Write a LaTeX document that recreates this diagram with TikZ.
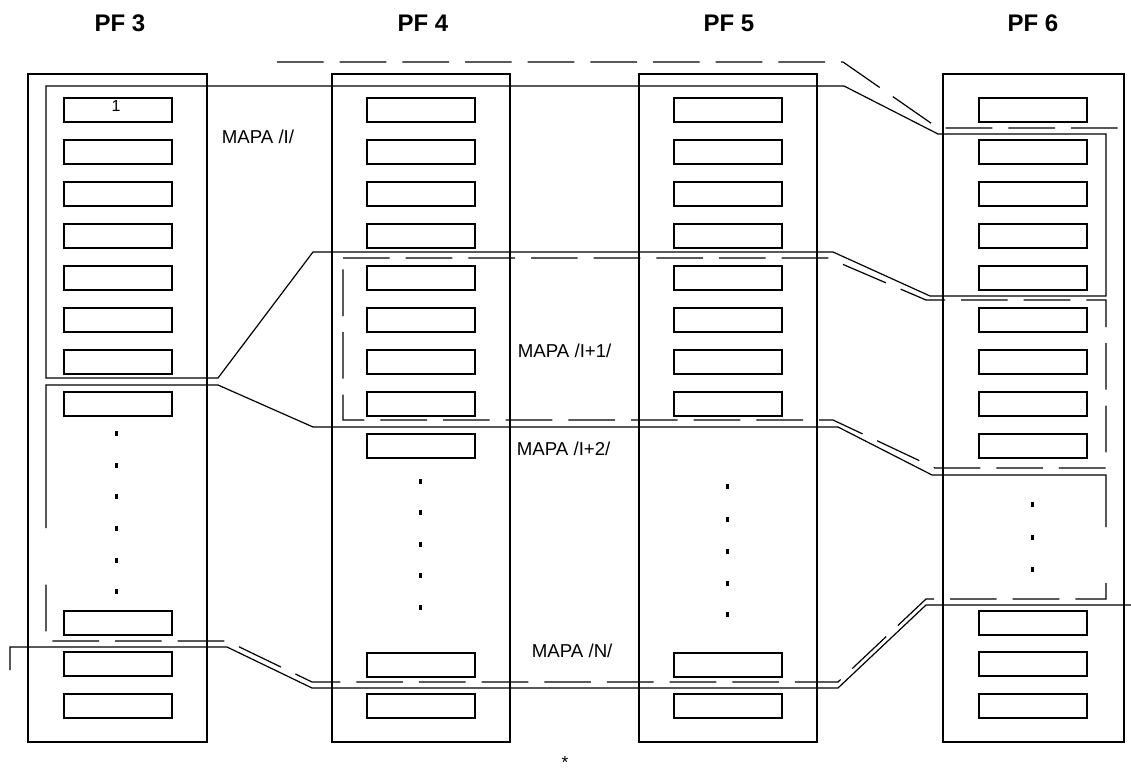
\documentclass[tikz,border=0pt]{standalone}
\usepackage{fontspec}
\setmainfont{Liberation Sans}
\begin{document}
\begin{tikzpicture}[x=0.75pt, y=-0.75pt, line width=1.3pt,
    mapline/.style={line width=0.9pt},
    mapdash/.style={line width=0.9pt, dash pattern=on 35pt off 12pt},
    pftitle/.style={font=\bfseries\fontsize{18}{21}\selectfont, inner sep=0pt},
    maplabel/.style={font=\fontsize{14}{16}\selectfont, inner sep=0pt, anchor=west}]
\useasboundingbox (0,0) rectangle (1131,780);
% titles
\node[pftitle] (pf3) at (120,23) {PF 3};
\node[pftitle] (pf4) at (423,23) {PF 4};
\node[pftitle] (pf5) at (729,23) {PF 5};
\node[pftitle] (pf6) at (1033,23) {PF 6};
% frames
\draw (28,74) rectangle (207,742);
\draw (332,74) rectangle (510,742);
\draw (639,74) rectangle (817,742);
\draw (943,74) rectangle (1124,742);
% slots PF 3
\foreach \y in {98,140,...,392} \draw (64,\y) rectangle (172,\y+24);
\foreach \y in {611,652,694} \draw (64,\y) rectangle (172,\y+24);
\foreach \y in {433,465,496,528,560,591} \fill (114.5,\y-2.5) rectangle (117.5,\y+2.5);
% slots PF 4
\foreach \y in {98,140,...,434} \draw (367,\y) rectangle (475,\y+24);
\foreach \y in {653,694} \draw (367,\y) rectangle (475,\y+24);
\foreach \y in {481,512,544,575,607} \fill (418.5,\y-2.5) rectangle (421.5,\y+2.5);
% slots PF 5
\foreach \y in {98,140,...,392} \draw (674,\y) rectangle (782,\y+24);
\foreach \y in {653,694} \draw (674,\y) rectangle (782,\y+24);
\foreach \y in {486,519,551,583,614} \fill (725.5,\y-2.5) rectangle (728.5,\y+2.5);
% slots PF 6
\foreach \y in {98,140,...,434} \draw (979,\y) rectangle (1087,\y+24);
\foreach \y in {611,652,694} \draw (979,\y) rectangle (1087,\y+24);
\foreach \y in {504,537,569} \fill (1030.5,\y-2.5) rectangle (1033.5,\y+2.5);
\node[font=\fontsize{12}{14}\selectfont, inner sep=0pt] (one) at (116,106) {1};
% maps
\draw[mapdash] (277,62) -- (843,62) -- (938,128) -- (1118,128);
\draw[mapline] (46,86) -- (844,86) -- (938,134) -- (1106,134) -- (1106,296)
  -- (930,296) -- (833,252) -- (313,252) -- (218,378) -- (46,378) -- cycle;
\draw[mapdash] (343,258) -- (828,258) -- (926,300) -- (1106,300) -- (1106,468)
  -- (935,468) -- (833,420) -- (343,420) -- cycle;
\draw[mapline] (46,528) -- (46,385) -- (218,385) -- (313,427) -- (838,427)
  -- (932,475) -- (1106,475) -- (1106,527);
\draw[mapdash] (1106,583) -- (1106,599) -- (926,599) -- (838,682) -- (312,682)
  -- (227,641) -- (46,641) -- (46,575);
\draw[mapline] (10,670) -- (10,647) -- (227,647) -- (312,688) -- (838,688)
  -- (926,605) -- (1131,605);
% labels
\node[maplabel] (mapa1) at (221,137) {MAPA /I/};
\node[maplabel] (mapa2) at (517,351) {MAPA /I+1/};
\node[maplabel] (mapa3) at (516,449) {MAPA /I+2/};
\node[maplabel] (mapan) at (531,651) {MAPA /N/};
\node[font=\fontsize{13}{15}\selectfont, inner sep=0pt] (star) at (565,763) {*};
\end{tikzpicture}
\end{document}
